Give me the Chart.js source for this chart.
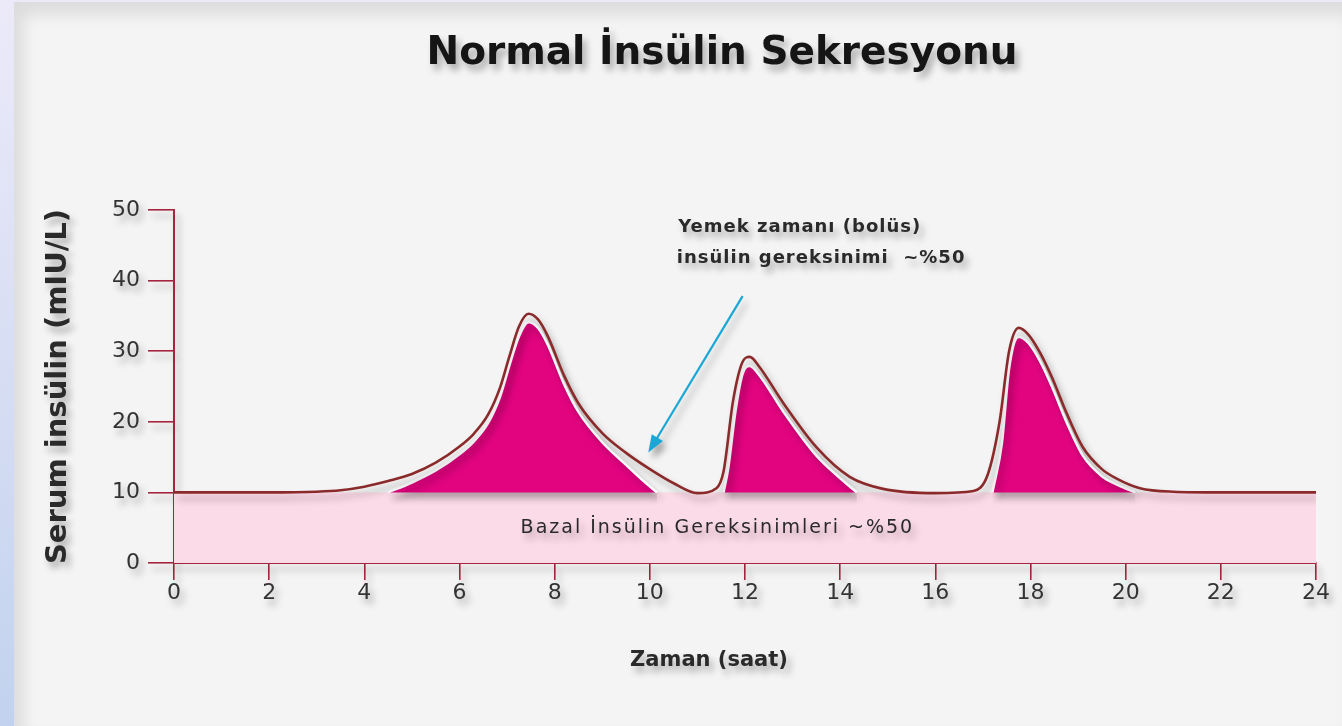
<!DOCTYPE html>
<html><head><meta charset="utf-8">
<script src="https://cdn.jsdelivr.net/npm/chart.js@4/dist/chart.umd.min.js"></script>
<style>
html,body{margin:0;padding:0;width:1342px;height:726px;overflow:hidden;}
body{background:linear-gradient(180deg,#eceaf9 0%,#c2d2ee 100%);position:relative;}
#panel{position:absolute;left:14px;top:2px;right:0;bottom:0;background:#f4f4f4;box-shadow:inset 9px 12px 16px rgba(0,0,0,0.10);}
canvas{position:absolute;left:0;top:0;}
</style></head><body><div id="panel"></div><canvas id="c" width="1342" height="726"></canvas>
<script>
// ---- data ----
const xTicks = [0,2,4,6,8,10,12,14,16,18,20,22,24];
const yTicks = [0,10,20,30,40,50];

const curveHours  = [0,1,2,3,3.5,4,4.5,5,5.5,6,6.3,6.6,6.85,7.05,7.25,7.45,7.65,7.85,8.2,8.5,9,9.5,10,10.5,11,11.4,11.55,11.75,11.95,12.1,12.3,12.8,13.5,14.2,14.9,16,16.8,17.1,17.35,17.55,17.75,17.95,18.2,18.45,18.76,19.1,19.5,19.8,20.3,21,22,23,24];
const curveValues = [10,10,10,10.1,10.3,10.8,11.6,12.6,14.2,16.5,18.3,21,24.8,29.3,33.5,35.3,34.5,32.2,26.5,22.6,18.4,15.6,13.3,11.3,9.9,10.6,13,23,28.5,29.2,27.8,22.7,16.4,12.2,10.5,9.9,10.2,12.5,20,30,33.3,32.4,29.8,26.3,21.2,16.4,13.3,12,10.6,10.1,10,10,10];

const bolus1Hours  = [4.5,5,5.5,6,6.3,6.6,6.85,7.05,7.25,7.45,7.65,7.85,8.2,8.5,9,9.5,9.85,10.15];
const bolus1Values = [10,11.4,13.1,15.4,17.2,19.8,23.5,28,32.1,34.1,33.3,31,25.3,21.4,17.1,13.9,11.7,10];
const bolus2Hours  = [11.55,11.65,11.8,11.95,12.1,12.3,12.8,13.5,14.0,14.35];
const bolus2Values = [10,13.5,21.5,26.8,27.9,26.6,21.5,15.2,12,10];
const bolus3Hours  = [17.2,17.4,17.55,17.75,17.95,18.2,18.45,18.76,19.1,19.5,19.85,20.2];
const bolus3Values = [10,17,27.5,32,31.2,28.6,25,19.9,15.2,12.3,11,10];

const basalHours  = [0,24];
const basalValues = [10,10];

const arrowHours  = [11.95,10.0];
const arrowValues = [37.8,16.0];

const titleText   = 'Normal İnsülin Sekresyonu';
const xTitle      = 'Zaman (saat)';
const yTitle      = 'Serum insülin (mIU/L)';
const calloutLines = ['Yemek zamanı (bolüs)','insülin gereksinimi  ~%50'];
const calloutAt    = [[13.15,47.5],[13.6,43.2]];
const basalLabel   = 'Bazal İnsülin Gereksinimleri ~%50';
const basalLabelAt = [11.42,4.9];

// ---- styles ----
const AXIS = '#a5253f';
const CURVE = '#8a2a2a';
const MAGENTA = '#e2047f';
const BAND = '#fcdbe8';
const CYAN = '#1aa7d6';
const TXT = '#2a2a2a';
const FAM = '"DejaVu Sans", sans-serif';

const pts = (xs, ys) => xs.map((v,i)=>({x:v,y:ys[i]}));

Chart.defaults.font.family = FAM;

const decor = {
  id:'decor',
  beforeDraw(chart){
    const c = chart.ctx;
    c.shadowColor='rgba(0,0,0,0.30)'; c.shadowBlur=7; c.shadowOffsetX=4; c.shadowOffsetY=6;
  },
  afterDatasetsDraw(chart){
    const {ctx, scales:{x,y}} = chart;
    const meta = chart.getDatasetMeta(5);
    const p0 = meta.data[0], p1 = meta.data[1];
    const a = Math.atan2(p1.y-p0.y, p1.x-p0.x);
    const L = 16, W = 0.42;
    ctx.save();
    ctx.fillStyle = CYAN;
    ctx.beginPath();
    ctx.moveTo(p1.x + 3*Math.cos(a), p1.y + 3*Math.sin(a));
    ctx.lineTo(p1.x - L*Math.cos(a-W), p1.y - L*Math.sin(a-W));
    ctx.lineTo(p1.x - L*Math.cos(a+W), p1.y - L*Math.sin(a+W));
    ctx.closePath(); ctx.fill();
    ctx.fillStyle = TXT;
    ctx.textAlign='center'; ctx.textBaseline='middle';
    ctx.font = 'bold 18px ' + FAM;
    ctx.letterSpacing = '1px';
    calloutLines.forEach((t,i)=>ctx.fillText(t, x.getPixelForValue(calloutAt[i][0]), y.getPixelForValue(calloutAt[i][1])));
    ctx.font = '19px ' + FAM;
    ctx.letterSpacing = '2px';
    ctx.fillText(basalLabel, x.getPixelForValue(basalLabelAt[0]), y.getPixelForValue(basalLabelAt[1]));
    ctx.letterSpacing = '0px';
    // chart title and x-axis title
    ctx.fillStyle = '#151515';
    ctx.font = 'bold 39px ' + FAM;
    ctx.fillText(titleText, 722, 54);
    ctx.fillStyle = TXT;
    ctx.font = 'bold 21px ' + FAM;
    ctx.fillText(xTitle, 709, 661);
    ctx.restore();
  }
};

const bolusDs = (xs, ys) => ({
  data: pts(xs, ys), borderColor:'#ffffff', borderWidth:2.5, backgroundColor: MAGENTA,
  fill:{value:10}, pointRadius:0, cubicInterpolationMode:'monotone', order:3
});

new Chart(document.getElementById('c'), {
  type:'line',
  data:{ datasets:[
    { data: pts(basalHours, basalValues), borderWidth:0, backgroundColor: BAND, fill:'origin', pointRadius:0, order:5 },
    bolusDs(bolus1Hours, bolus1Values),
    bolusDs(bolus2Hours, bolus2Values),
    bolusDs(bolus3Hours, bolus3Values),
    { data: pts(curveHours, curveValues), borderColor: CURVE, borderWidth:2.6, fill:false, pointRadius:0, cubicInterpolationMode:'monotone', order:1 },
    { data: pts(arrowHours, arrowValues), borderColor: CYAN, borderWidth:2.2, fill:false, pointRadius:0, tension:0, order:0 }
  ]},
  options:{
    responsive:false, animation:false, devicePixelRatio:1,
    layout:{ padding:{ left:40, right:26, top:210, bottom:40 } },
    plugins:{ legend:{display:false}, tooltip:{enabled:false}, title:{display:false} },
    scales:{
      x:{ type:'linear', min:0, max:24,
        afterBuildTicks(s){ s.ticks = xTicks.map(v=>({value:v})); },
        afterFit(s){ s.height = 123; },
        grid:{ drawOnChartArea:false, drawTicks:true, tickLength:17, color:AXIS, lineWidth:1.6 },
        border:{ display:true, color:AXIS, width:2 },
        ticks:{ color:'#333', font:{size:22}, padding:0, maxRotation:0, autoSkip:false },
        title:{ display:false }
      },
      y:{ type:'linear', min:0, max:50,
        afterBuildTicks(s){ s.ticks = yTicks.map(v=>({value:v})); },
        afterFit(s){ s.width = 134; },
        grid:{ drawOnChartArea:false, drawTicks:true, tickLength:26, color:AXIS, lineWidth:1.6 },
        border:{ display:true, color:AXIS, width:2 },
        ticks:{ color:'#333', font:{size:22}, padding:8, autoSkip:false },
        title:{ display:true, text:yTitle, color:TXT, font:{size:29, weight:'bold'}, padding:{top:1, bottom:0} }
      }
    }
  },
  plugins:[decor]
});
</script>
</body></html>
